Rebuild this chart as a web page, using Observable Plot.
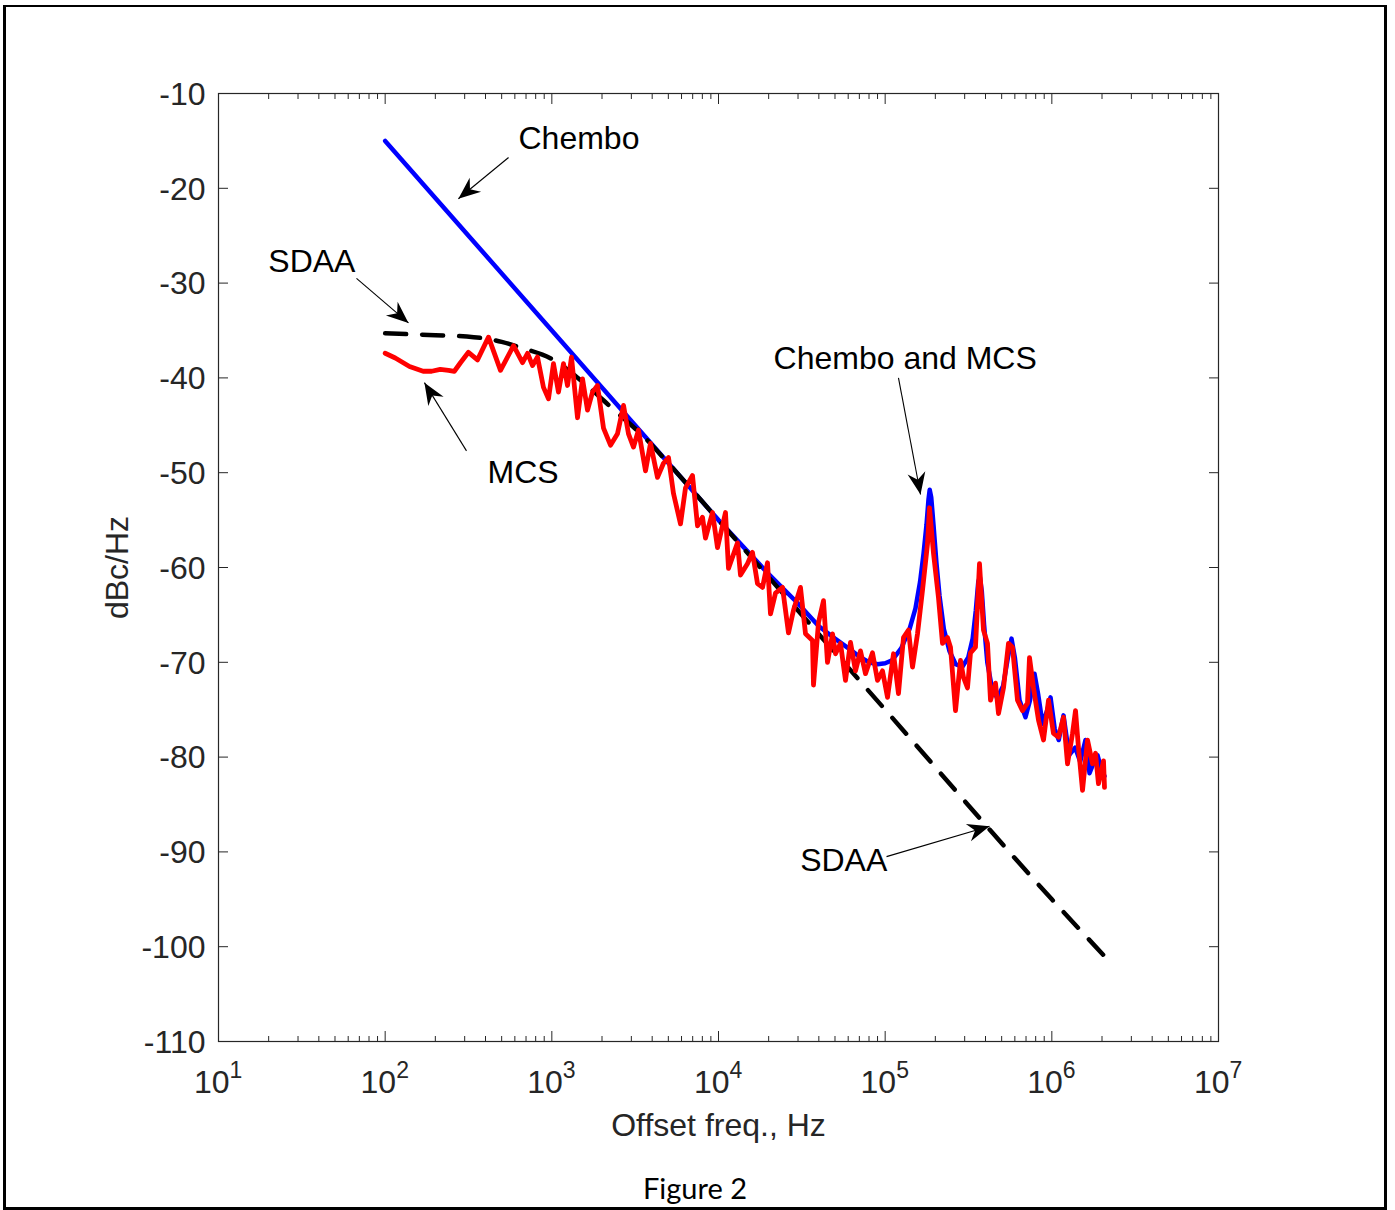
<!DOCTYPE html>
<html><head><meta charset="utf-8">
<script src="https://cdn.jsdelivr.net/npm/d3@7"></script>
<script src="https://cdn.jsdelivr.net/npm/@observablehq/plot@0.6"></script>
<style>
body{margin:0;background:#fff;width:1395px;height:1210px;position:relative;overflow:hidden}
#frame{position:absolute;left:3px;top:5px;width:1384px;height:1205px;box-sizing:border-box;border:3px solid #000;border-top-width:2px}
#chart{position:absolute;left:0;top:0}
#caption{position:absolute;left:0;width:1390px;top:1173px;line-height:29px;text-align:center;font-size:29px;font-family:Lato,"Open Sans",sans-serif;color:#000}
</style></head><body>
<div id="frame"></div><div id="chart"></div><div id="caption">Figure 2</div>
<script>
// ---- data ----
const chemboF  = [100,1000,10000,20000,30000,40000,50000,60000,70000,80000,90000,100000,110000,125000,140000,152000,162000,170000,177000,182000,185000,189000,195000,203000,212000,225000,243000,265000,290000,315000,335000,350000,362000,370000,380000,392000,410000,435000,470000,510000,545000,573000,600000,640000,695000,740000,787000,830000,880000,940000,982000,1040000,1100000,1175000,1270000,1380000,1480000,1592000,1683000,1790000,1879000,2000000,2070000];
const chemboDb = [-15,-35,-55,-60.7,-63.8,-66.2,-67.5,-68.5,-69.4,-70.0,-70.2,-70.1,-69.8,-68.5,-66.5,-64.3,-61.5,-58.5,-55.5,-52.8,-51.8,-52.6,-55.5,-59.5,-63,-66.5,-68.8,-70.2,-70.5,-69.5,-67.5,-64.5,-61.5,-61,-62.5,-66,-70,-72.5,-73.8,-72.5,-69.5,-67.5,-69.5,-74,-75.8,-74,-71.2,-73.5,-76.5,-75,-73.7,-77,-78.2,-75.6,-79.8,-79,-80.5,-78.2,-81.7,-80.5,-79.8,-81.5,-82];

const sdaaF  = [100,200,340,500,650,1000,1500,2300,3700,5000,10000,100000,1000000,2070000];
const sdaaDb = [-35.3,-35.5,-35.7,-36.2,-36.8,-38.0,-40.3,-43.2,-46.5,-49.0,-55.0,-75.0,-95.0,-101.0];

const mcsF  = [100,115,140,169,190,214,240,260,283,316,358,417,492,589,667,715,766,820,891,955,1023,1096,1175,1242,1312,1426,1528,1637,1754,1879,2042,2249,2477,2692,2884,3090,3311,3648,3908,4305,4677,5012,5370,5916,6339,6982,7482,8017,8356,9204,9863,11015,11480,13000,13550,14920,15990,17140,18370,19680,20510,21980,24210,26300,28180,31040,33270,36640,37150,39810,42660,45080,48310,50350,53950,57810,61940,66370,71120,76210,83950,89950,96390,103300,112200,120200,128800,138000,145900,156300,167500,179500,184500,195000,208900,220800,236600,246600,264200,283100,295100,311900,325100,348300,368100,389000,411100,428500,459200,478600,512900,549500,580700,622300,666800,714500,734500,776200,831800,891300,955000,1023000,1096000,1175000,1242000,1331000,1387000,1445000,1528000,1637000,1754000,1828000,1905000,2042000,2070000];
const mcsDb = [-37.4,-37.9,-38.8,-39.3,-39.3,-39.1,-39.2,-39.3,-38.4,-37.3,-38.1,-35.7,-39.2,-36.6,-38.4,-37.4,-38.7,-37.8,-41.0,-42.2,-38.5,-41.5,-38.5,-40.8,-37.8,-44.2,-40.1,-43.4,-41.5,-40.8,-45.3,-47.1,-45.9,-42.9,-45.9,-47.3,-45.5,-49.8,-46.9,-50.5,-49.0,-48.4,-52.2,-55.4,-51.6,-50.3,-55.6,-54.7,-56.9,-54.2,-57.9,-54.2,-60.1,-57.4,-60.8,-59.6,-58.4,-61.7,-62.1,-59.5,-64.9,-62.7,-62.1,-66.9,-64.5,-62.1,-67.0,-67.7,-72.4,-65.8,-63.5,-70.0,-67.0,-69.1,-68.0,-71.9,-67.9,-70.9,-68.8,-71.2,-69.0,-71.9,-70.9,-73.7,-69.1,-73.3,-67.4,-66.6,-70.5,-67.0,-62.4,-57.5,-53.7,-58.5,-63.2,-68.0,-67.4,-68.4,-75.1,-69.8,-71.6,-72.7,-69.0,-68.4,-59.6,-66.6,-68.0,-74.0,-72.2,-75.4,-72.7,-68.0,-68.4,-74.0,-75.1,-74.3,-69.5,-72.7,-76.1,-78.2,-74.0,-77.5,-77.9,-75.8,-80.7,-77.5,-75.1,-79.0,-83.5,-78.2,-80.7,-79.6,-82.8,-80.4,-83.2];

// tick values
const xTickExp = [1,2,3,4,5,6,7];
const xMajor = xTickExp.map(e => 10 ** e);
const xMinor = [1,2,3,4,5,6].flatMap(e => [2,3,4,5,6,7,8,9].map(m => m * 10 ** e));
const yTicks = [-110,-100,-90,-80,-70,-60,-50,-40,-30,-20,-10];

// annotations
const labelText = ["Chembo","SDAA","MCS","Chembo and MCS","SDAA"];
const labelF    = [631, 19.9, 411, 21400, 30900];
const labelDb   = [-14.75, -27.7, -50.0, -38.0, -90.9];
const arrowTailF  = [550, 67.3, 307.6, 120200, 101900];
const arrowTailDb = [-16.75, -29.5, -47.7, -40.0, -90.5];
const arrowHeadF  = [275, 138, 172, 163000, 422700];
const arrowHeadDb = [-21.1, -34.2, -40.5, -52.3, -87.3];

// ---- layout ----
const W = 1395, H = 1160, ML = 218, MR = 177, MT = 93, MB = 119;
const xDomain = [10, 1e7], yDomain = [-110, -10];
const xs = Plot.scale({x: {type: "log", domain: xDomain, range: [ML, W - MR]}});
const ys = Plot.scale({y: {type: "linear", domain: yDomain, range: [H - MB, MT]}});
const axisColor = "#262626";
const font = "'Liberation Sans', Arial, Helvetica, sans-serif";
const FS = 32;

const toRows = (F, D) => F.map((f, i) => ({f, db: D[i]}));
const chembo = toRows(chemboF, chemboDb);
const sdaa = toRows(sdaaF, sdaaDb);
const mcs = toRows(mcsF, mcsDb);
const idx = d3.range(arrowHeadF.length);
const rot = idx.map(i => {
  const dx = xs.apply(arrowHeadF[i]) - xs.apply(arrowTailF[i]);
  const dy = ys.apply(arrowHeadDb[i]) - ys.apply(arrowTailDb[i]);
  return Math.atan2(dx, -dy) * 180 / Math.PI;
});
const arrowHead = {draw(ctx) { ctx.moveTo(0, 0); ctx.lineTo(9, 22); ctx.lineTo(0, 15); ctx.lineTo(-9, 22); ctx.closePath(); }};

const chart = Plot.plot({
  width: W, height: H,
  marginLeft: ML, marginRight: MR, marginTop: MT, marginBottom: MB,
  style: {fontFamily: font, background: "transparent", overflow: "visible"},
  x: {type: "log", domain: xDomain, axis: null},
  y: {type: "linear", domain: yDomain, axis: null},
  marks: [
    Plot.line(chembo, {x: "f", y: "db", stroke: "#0000ff", strokeWidth: 4.5, strokeLinejoin: "round"}),
    Plot.line(sdaa, {x: "f", y: "db", stroke: "#000", strokeWidth: 4.5, strokeDasharray: "21,16", curve: "monotone-x"}),
    Plot.line(mcs, {x: "f", y: "db", stroke: "#ff0000", strokeWidth: 4.8, strokeLinejoin: "round"}),
    Plot.frame({stroke: axisColor, strokeWidth: 1.2}),
    Plot.axisX(xMajor, {anchor: "bottom", tickSize: 10, dy: -10, fill: "none", label: null, stroke: axisColor}),
    Plot.axisX(xMinor, {anchor: "bottom", tickSize: 5, dy: -5, fill: "none", label: null, stroke: axisColor}),
    Plot.axisX(xMajor, {anchor: "top", tickSize: 10, dy: 10, fill: "none", label: null, stroke: axisColor}),
    Plot.axisX(xMinor, {anchor: "top", tickSize: 5, dy: 5, fill: "none", label: null, stroke: axisColor}),
    Plot.axisY(yTicks, {anchor: "left", tickSize: 10, dx: 10, fill: "none", label: null, stroke: axisColor}),
    Plot.axisY(yTicks, {anchor: "right", tickSize: 10, dx: -10, fill: "none", label: null, stroke: axisColor}),
    Plot.text(xTickExp, {x: d => 10 ** d, text: () => "10", frameAnchor: "bottom", lineAnchor: "middle", dy: 41, dx: 11, textAnchor: "end", fontSize: FS, fill: axisColor}),
    Plot.text(xTickExp, {x: d => 10 ** d, text: d => String(d), frameAnchor: "bottom", lineAnchor: "middle", dy: 29, dx: 11, textAnchor: "start", fontSize: 23, fill: axisColor}),
    Plot.text(yTicks, {y: d => d, text: d => String(d), frameAnchor: "left", lineAnchor: "middle", dx: -13, dy: 1, textAnchor: "end", fontSize: FS, fill: axisColor}),
    Plot.text(["dBc/Hz"], {y: () => -60, frameAnchor: "left", lineAnchor: "middle", textAnchor: "middle", dx: -101, rotate: -90, fontSize: FS, fill: axisColor}),
    Plot.text(["Offset freq., Hz"], {x: () => 1e4, frameAnchor: "bottom", lineAnchor: "middle", textAnchor: "middle", dy: 84, fontSize: FS, fill: axisColor}),
    Plot.text(idx, {x: i => labelF[i], y: i => labelDb[i], text: i => labelText[i], textAnchor: "start", lineAnchor: "middle", fontSize: FS, fill: "#000"}),
    Plot.link(idx, {x1: i => arrowTailF[i], y1: i => arrowTailDb[i], x2: i => arrowHeadF[i], y2: i => arrowHeadDb[i], stroke: "#000", strokeWidth: 1.1}),
    Plot.dot(idx, {x: i => arrowHeadF[i], y: i => arrowHeadDb[i], symbol: arrowHead, rotate: i => rot[i], fill: "#000", stroke: "none"})
  ]
});
document.getElementById("chart").appendChild(chart);
</script></body></html>
